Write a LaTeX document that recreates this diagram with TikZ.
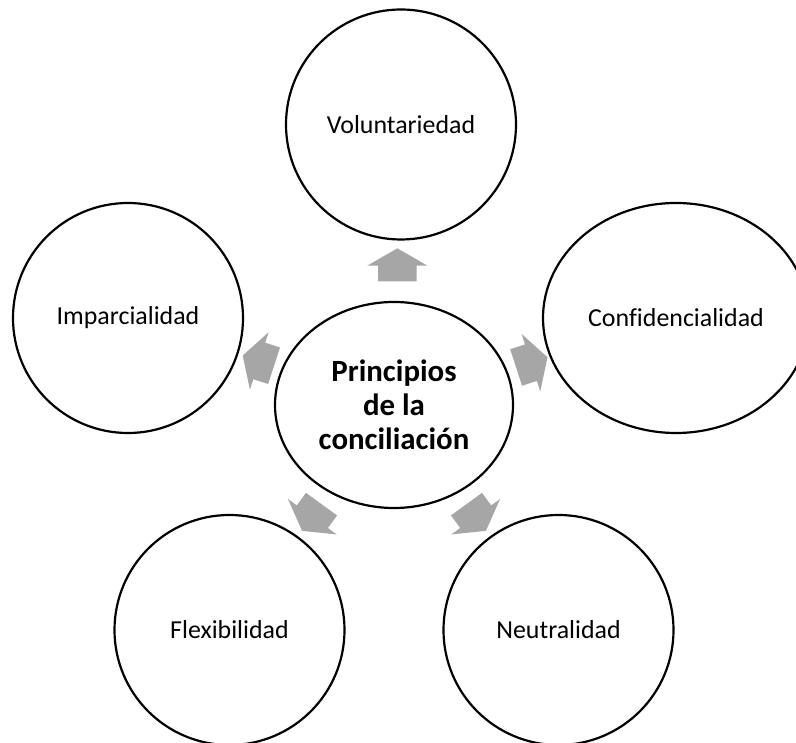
\documentclass[tikz,border=0pt]{standalone}
\usepackage{fontspec}
\setmainfont[Ligatures=NoCommon]{Carlito}
\usetikzlibrary{shapes.geometric, shapes.arrows, calc}
\definecolor{grisflecha}{RGB}{166,166,166}

\begin{document}
\begin{tikzpicture}[
    x=1bp, y=1bp,
    principio/.style={ellipse, draw=black, line width=2.2bp, minimum width=230bp, minimum height=230bp, inner sep=0pt, font=\fontsize{26}{31}\selectfont},
    centro/.style={ellipse, draw=black, line width=2.2bp, minimum width=238bp, minimum height=206bp, inner sep=0pt, align=center, font=\fontsize{31}{34}\selectfont\bfseries},
    flecha/.style={single arrow, fill=grisflecha, draw=none, minimum height=33bp, inner xsep=0pt, inner ysep=19bp, single arrow head extend=11bp, single arrow tip angle=120}
]
    \useasboundingbox (0,0) rectangle (796,743);

    % Centro
    \node (principios) [centro] at (394, 338) {Principios\\de la\\conciliación};

    % Principios alrededor
    \node (voluntariedad) [principio] at (401, 618.5) {Voluntariedad};
    \node (confidencialidad) [principio, minimum width=266bp] at (676, 425) {Confidencialidad};
    \node (neutralidad) [principio] at (558.5, 113) {Neutralidad};
    \node (flexibilidad) [principio] at (229.5, 113) {Flexibilidad};
    \node (imparcialidad) [principio] at (128, 425) {Imparcialidad};

    % Flechas hacia afuera
    \node (flecha_vol) [flecha, rotate=90] at ($(principios)!0.48!(voluntariedad)$) {};
    \node (flecha_conf) [flecha, rotate=18] at ($(principios)!0.47!(confidencialidad)$) {};
    \node (flecha_neut) [flecha, rotate=306] at ($(principios)!0.48!(neutralidad)$) {};
    \node (flecha_flex) [flecha, rotate=234] at ($(principios)!0.48!(flexibilidad)$) {};
    \node (flecha_imp) [flecha, rotate=162] at ($(principios)!0.49!(imparcialidad)$) {};
\end{tikzpicture}
\end{document}
